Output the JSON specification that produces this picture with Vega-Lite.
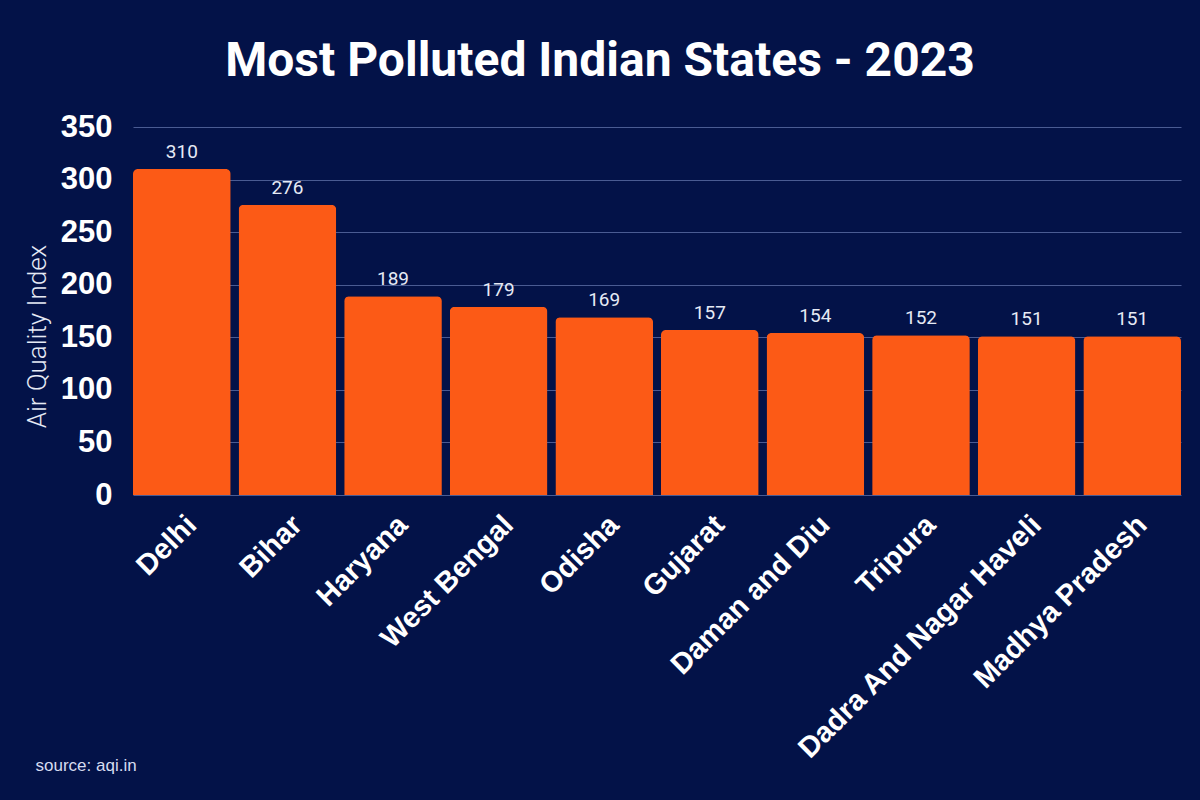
{
  "$schema": "https://vega.github.io/schema/vega-lite/v6.json",
  "width": 1048,
  "height": 368,
  "autosize": {"type": "none"},
  "padding": {"left": 133, "top": 127, "right": 19, "bottom": 305},
  "background": "#031248",
  "title": {
    "text": "Most Polluted Indian States - 2023",
    "font": "Roboto",
    "fontSize": 48,
    "fontWeight": "bold",
    "color": "#ffffff",
    "anchor": "middle",
    "frame": "group",
    "baseline": "bottom",
    "offset": 40,
    "dy": 63,
    "dx": -57
  },
  "data": {
    "values": [
      {"state": "Delhi", "aqi": 310},
      {"state": "Bihar", "aqi": 276},
      {"state": "Haryana", "aqi": 189},
      {"state": "West Bengal", "aqi": 179},
      {"state": "Odisha", "aqi": 169},
      {"state": "Gujarat", "aqi": 157},
      {"state": "Daman and Diu", "aqi": 154},
      {"state": "Tripura", "aqi": 152},
      {"state": "Dadra And Nagar Haveli", "aqi": 151},
      {"state": "Madhya Pradesh", "aqi": 151}
    ]
  },
  "encoding": {
    "x": {
      "field": "state",
      "type": "nominal",
      "sort": null,
      "scale": {"paddingInner": 0.075, "paddingOuter": 0},
      "axis": {
        "title": "source: aqi.in",
        "titleFont": "Liberation Sans",
        "titleFontSize": 17,
        "titleFontWeight": "normal",
        "titleColor": "#d6dcf0",
        "titleAnchor": "start",
        "titleAlign": "left",
        "titleBaseline": "alphabetic",
        "titleX": -98,
        "titleY": 275,
        "labelAngle": -45,
        "labelFont": "Liberation Sans",
        "labelFontSize": 29,
        "labelFontWeight": "bold",
        "labelColor": "#ffffff",
        "labelPadding": 15,
        "labelLimit": 450,
        "ticks": false,
        "domain": false
      }
    },
    "y": {
      "field": "aqi",
      "type": "quantitative",
      "scale": {"domain": [0, 350], "nice": false},
      "axis": {
        "title": "Air Quality Index",
        "titleFont": "Roboto",
        "titleFontSize": 26,
        "titleFontWeight": 300,
        "titleColor": "#e6eaf5",
        "titleAngle": -90,
        "titleAlign": "center",
        "titleBaseline": "middle",
        "titleX": -96,
        "titleY": 209,
        "values": [0, 50, 100, 150, 200, 250, 300, 350],
        "labelFont": "Liberation Sans",
        "labelFontSize": 31,
        "labelFontWeight": "bold",
        "labelColor": "#ffffff",
        "labelPadding": 21,
        "ticks": false,
        "domain": false,
        "grid": true,
        "gridColor": "#4a5b92",
        "gridWidth": 1
      }
    }
  },
  "layer": [
    {
      "mark": {
        "type": "bar",
        "color": "#fc5a16",
        "cornerRadiusTopLeft": 5,
        "cornerRadiusTopRight": 5
      }
    },
    {
      "mark": {
        "type": "text",
        "font": "Roboto",
        "fontSize": 19,
        "color": "#e6eaf5",
        "baseline": "alphabetic",
        "dy": -11
      },
      "encoding": {"text": {"field": "aqi", "type": "quantitative"}}
    }
  ],
  "config": {"view": {"stroke": null}}
}
